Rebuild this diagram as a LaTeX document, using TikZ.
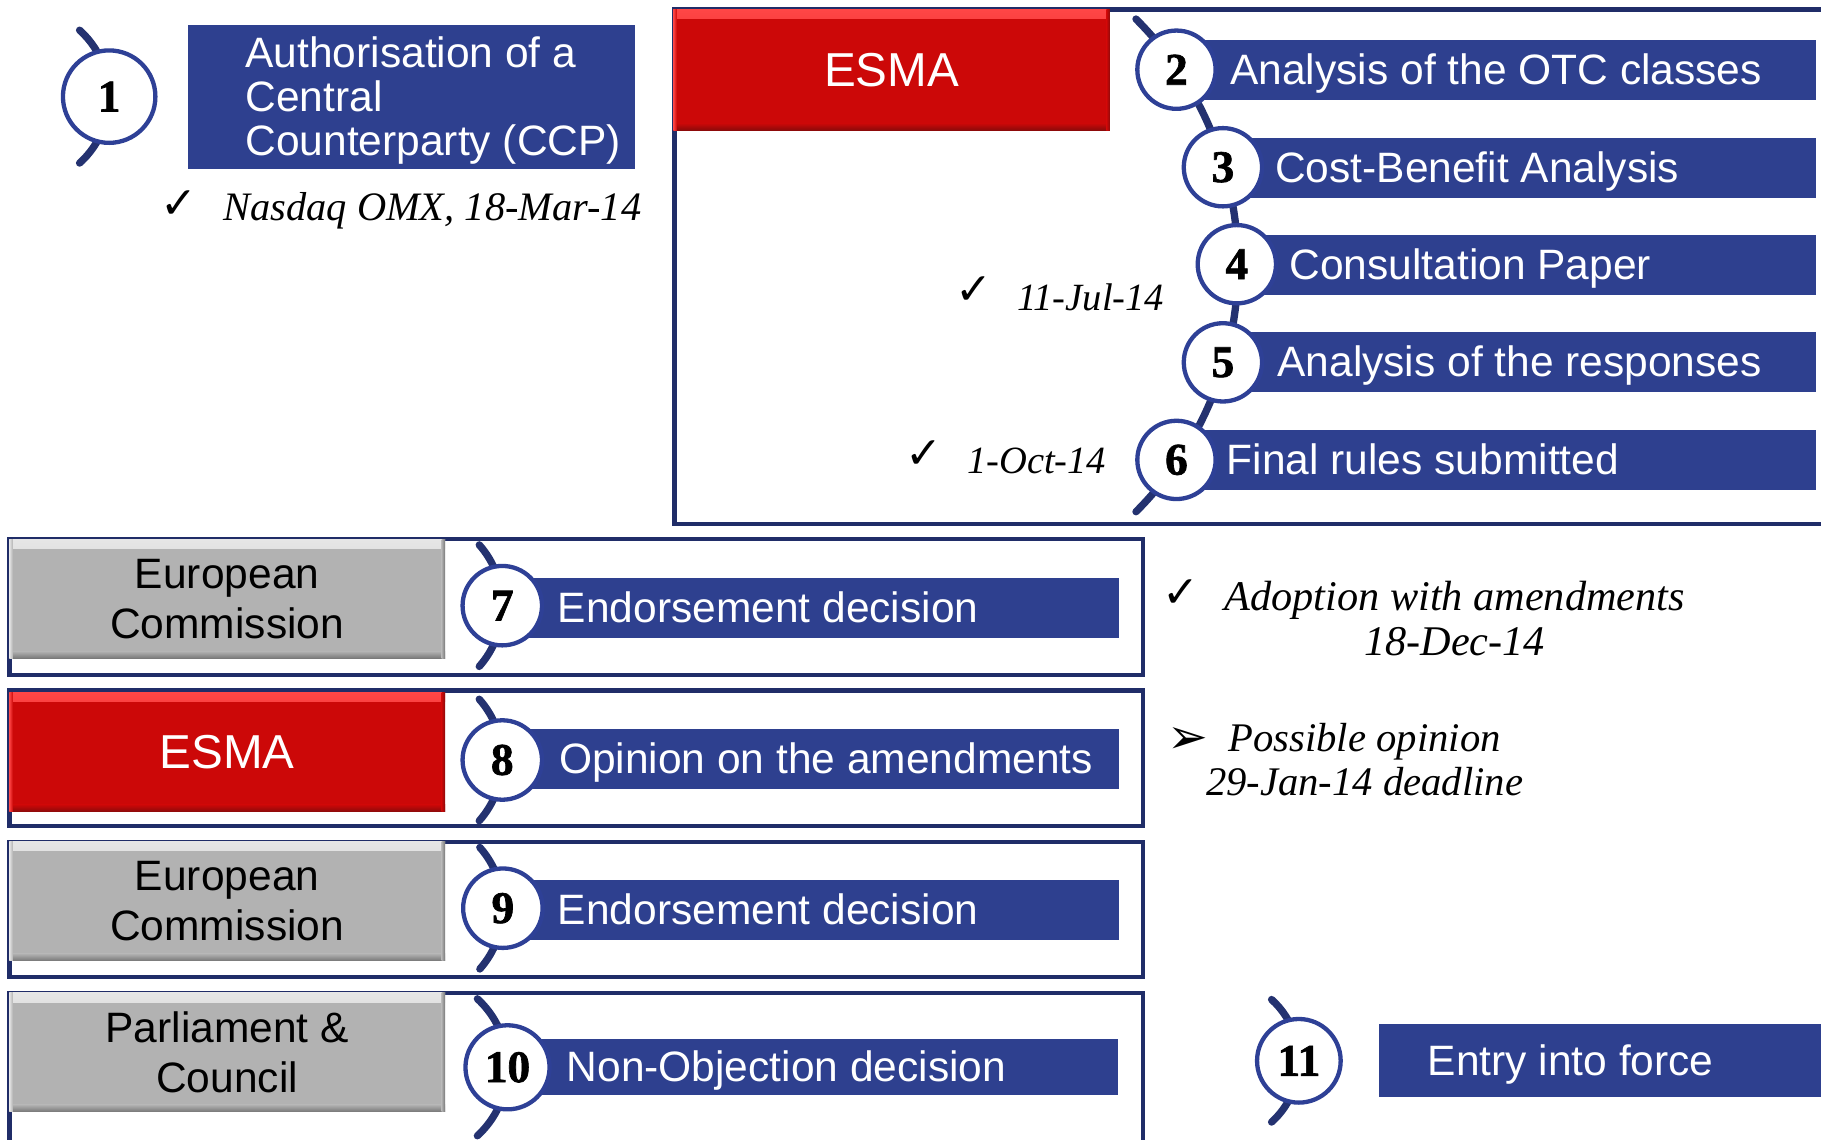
\documentclass[tikz,border=0pt]{standalone}
\usepackage{fontspec}
\newfontfamily\arialf{Liberation Sans}
\newfontfamily\timesf{Liberation Serif}
\newfontfamily\numf[BoldFeatures={FakeBold=1.5}]{Liberation Serif}
\newfontfamily\symf{DejaVu Sans}
\definecolor{barblue}{RGB}{46,64,143}
\definecolor{ringblue}{RGB}{46,64,150}
\definecolor{arcblue}{RGB}{36,50,112}
\definecolor{framenavy}{RGB}{32,45,104}
\definecolor{esmared}{RGB}{204,8,8}
\definecolor{esmalight}{RGB}{255,70,70}
\definecolor{esmadark}{RGB}{140,10,10}
\definecolor{ecgrey}{RGB}{178,178,178}
\definecolor{eclight}{RGB}{230,230,230}
\definecolor{ecdark}{RGB}{120,120,120}
\begin{document}
\begin{tikzpicture}[x=0.5pt,y=-0.5pt,
  framepath/.style={draw=framenavy, line width=1.85pt},
  arcline/.style={draw=arcblue, line width=3.15pt, line cap=round},
  numcirc/.style={circle, draw=ringblue, line width=1.85pt, fill=white, inner sep=0pt, text=black,
    font=\numf\bfseries\fontsize{19.5pt}{19.5pt}\selectfont},
  bar/.style={rectangle, fill=barblue, inner sep=0pt, anchor=north west, minimum height=25.8pt},
  bartxt/.style={inner sep=0pt, anchor=base west, text=white, font=\arialf\fontsize{18.3pt}{19pt}\selectfont},
  greybox/.style={rectangle, fill=ecgrey, minimum width=187.6pt, minimum height=51.2pt, inner sep=0pt,
    align=center, text=black, font=\arialf\fontsize{18.3pt}{21.5pt}\selectfont,
    path picture={
      \shade[top color=eclight, bottom color=ecgrey] (path picture bounding box.north west) rectangle ([yshift=-4pt]path picture bounding box.north east);
      \shade[top color=ecgrey, bottom color=ecdark] ([yshift=3pt]path picture bounding box.south west) rectangle (path picture bounding box.south east);
      \shade[left color=eclight, right color=ecgrey] (path picture bounding box.north west) rectangle ([xshift=1.5pt]path picture bounding box.south west);
      \shade[left color=ecgrey, right color=ecdark] ([xshift=-1.5pt]path picture bounding box.north east) rectangle (path picture bounding box.south east);
    }},
  redbox/.style={rectangle, fill=esmared, minimum width=187.6pt, minimum height=51.2pt, inner sep=0pt,
    text=white, font=\arialf\fontsize{20.5pt}{22pt}\selectfont,
    path picture={
      \shade[top color=esmalight, bottom color=esmared] (path picture bounding box.north west) rectangle ([yshift=-4pt]path picture bounding box.north east);
      \shade[top color=esmared, bottom color=esmadark] ([yshift=3pt]path picture bounding box.south west) rectangle (path picture bounding box.south east);
      \shade[left color=esmalight, right color=esmared] (path picture bounding box.north west) rectangle ([xshift=1.5pt]path picture bounding box.south west);
      \shade[left color=esmared, right color=esmadark] ([xshift=-1.5pt]path picture bounding box.north east) rectangle (path picture bounding box.south east);
    }},
  note/.style={inner sep=0pt, text=black, font=\timesf\itshape\fontsize{17.5pt}{19.5pt}\selectfont},
  tick/.style={inner sep=0pt, anchor=base west, text=black, font=\symf\fontsize{19pt}{19pt}\selectfont}
]
\useasboundingbox (0,0) rectangle (1568,981);
\fill[white] (0,0) rectangle (1568,981);

% frames
\draw[framepath] (1580,8.2) -- (580.8,8.2) -- (580.8,451) -- (1580,451);
\draw[framepath] (8.2,464) rectangle (984,581.5);
\draw[framepath] (8.2,594.5) rectangle (984,711.3);
\draw[framepath] (8.2,725) rectangle (984,841.3);
\draw[framepath] (8.2,995) -- (8.2,854.8) -- (984,854.8) -- (984,995);

% coloured boxes
\node[redbox, minimum width=188pt, minimum height=52pt] (esmaA) at (767.75,60) {ESMA};
\node[greybox] (ecA) at (195.6,515.6) {European\\Commission};
\node[redbox] (esmaB) at (195.6,647.65) {ESMA};
\node[greybox] (ecB) at (195.6,775.95) {European\\Commission};
\node[greybox] (pc) at (195.6,906) {Parliament \&\\Council};

% step 1 box
\node[rectangle, fill=barblue, inner sep=0pt, anchor=north west, minimum width=192.35pt, minimum height=62.4pt] (b1) at (161.3,20.7) {};
\node[bartxt, align=left, anchor=north west] (t1) at (211,31.3) {Authorisation of a\\Central\\Counterparty (CCP)};

% bars
\node[bar, minimum width=275pt] (b2) at (1013,33.9) {};
\node[bar, minimum width=255pt] (b3) at (1053,118.3) {};
\node[bar, minimum width=249pt] (b4) at (1065,201.95) {};
\node[bar, minimum width=255pt] (b5) at (1053,285.7) {};
\node[bar, minimum width=275pt] (b6) at (1013,369.7) {};
\node[bar, minimum width=265.25pt] (b7) at (432.5,496.95) {};
\node[bar, minimum width=265.25pt] (b8) at (432.5,627.5) {};
\node[bar, minimum width=265pt] (b9) at (433,757.2) {};
\node[bar, minimum width=262.5pt, minimum height=24.2pt] (b10) at (437,894.3) {};
\node[bar, minimum width=194.1pt, minimum height=31.3pt] (b11) at (1186.8,881.7) {};

\node[bartxt] (t2) at (1059,72.8) {Analysis of the OTC classes};
\node[bartxt] (t3) at (1097.6,157.2) {Cost-Benefit Analysis};
\node[bartxt] (t4) at (1110,240.9) {Consultation Paper};
\node[bartxt] (t5) at (1099.5,324.6) {Analysis of the responses};
\node[bartxt] (t6) at (1056,408.6) {Final rules submitted};
\node[bartxt] (t7) at (480,535.9) {Endorsement decision};
\node[bartxt] (t8) at (481,666.4) {Opinion on the amendments};
\node[bartxt] (t9) at (480,796.1) {Endorsement decision};
\node[bartxt] (t10) at (487.6,931.6) {Non-Objection decision};
\node[bartxt] (t11) at (1229,926.1) {Entry into force};

% circle centres
\coordinate (p1) at (94,83.2);
\coordinate (p2) at (1013,60);
\coordinate (p3) at (1053,144);
\coordinate (p4) at (1065,227.5);
\coordinate (p5) at (1053,312);
\coordinate (p6) at (1013,396);
\coordinate (p7) at (432.5,521.5);
\coordinate (p8) at (432.5,654.4);
\coordinate (p9) at (433,782);
\coordinate (p10) at (437,919);
\coordinate (p11) at (1118.4,913.4);
\coordinate (bigc) at (766,228.5);

% arcs
\draw[arcline] (bigc) ++(-45:300) arc[start angle=-45, end angle=45, radius=300];
\draw[arcline] (p1) ++(-77,0) ++(-48:77) arc[start angle=-48, end angle=48, radius=77];
\draw[arcline] (p7) ++(-79,0) ++(-41.5:79) arc[start angle=-41.5, end angle=41.5, radius=79];
\draw[arcline] (p8) ++(-79,0) ++(-41.5:79) arc[start angle=-41.5, end angle=41.5, radius=79];
\draw[arcline] (p9) ++(-79,0) ++(-41.5:79) arc[start angle=-41.5, end angle=41.5, radius=79];
\draw[arcline] (p10) ++(-80,0) ++(-47.5:80) arc[start angle=-47.5, end angle=47.5, radius=80];
\draw[arcline] (p11) ++(-71,0) ++(-48:71) arc[start angle=-48, end angle=48, radius=71];

% circles
\node[numcirc, minimum size=39.8pt] (c1) at (p1) {1};
\node[numcirc, minimum size=33.7pt] (c2) at (p2) {2};
\node[numcirc, minimum size=33.7pt] (c3) at (p3) {3};
\node[numcirc, minimum size=33.7pt] (c4) at (p4) {4};
\node[numcirc, minimum size=33.7pt] (c5) at (p5) {5};
\node[numcirc, minimum size=33.7pt] (c6) at (p6) {6};
\node[numcirc, minimum size=34.2pt] (c7) at (p7) {7};
\node[numcirc, minimum size=34.2pt] (c8) at (p8) {8};
\node[numcirc, minimum size=34.2pt] (c9) at (p9) {9};
\node[numcirc, minimum size=36.2pt] (c10) at (p10) {10};
\node[numcirc, minimum size=36pt] (c11) at (p11) {11};

% notes
\node[tick] (k1) at (138,188) {✓};
\node[note, anchor=base west, font=\timesf\itshape\fontsize{17.4pt}{19pt}\selectfont] (d1) at (192,190) {Nasdaq OMX, 18-Mar-14};
\node[tick] (k2) at (822.7,262.6) {✓};
\node[note, anchor=base west, font=\timesf\itshape\fontsize{16.6pt}{19pt}\selectfont] (d2) at (875.4,267) {11-Jul-14};
\node[tick] (k3) at (779.6,403) {✓};
\node[note, anchor=base west, font=\timesf\itshape\fontsize{16.6pt}{19pt}\selectfont] (d3) at (832.3,407.5) {1-Oct-14};
\node[tick] (k4) at (1001,523) {✓};
\node[note, anchor=north, align=center, font=\timesf\itshape\fontsize{18.2pt}{19.5pt}\selectfont] (d4) at (1252.5,500) {Adoption with amendments\\18-Dec-14};
\node[tick, font=\symf\fontsize{21pt}{21pt}\selectfont] (k5) at (1005,649) {➢};
\node[note, anchor=north, align=center, font=\timesf\itshape\fontsize{17.5pt}{19pt}\selectfont] (d5) at (1175,622) {Possible opinion\\29-Jan-14 deadline};
\end{tikzpicture}
\end{document}
